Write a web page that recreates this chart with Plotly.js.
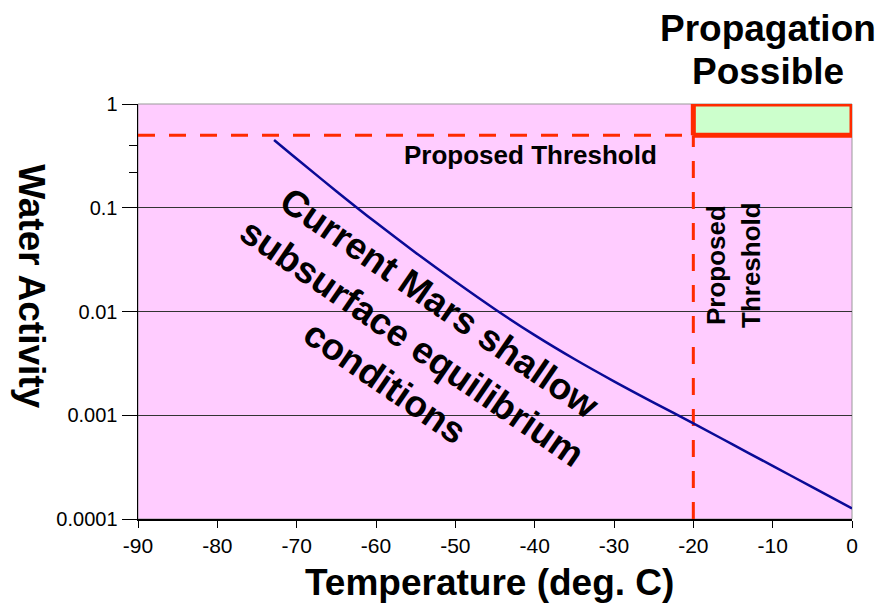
<!DOCTYPE html>
<html>
<head>
<meta charset="utf-8">
<script src="https://cdn.plot.ly/plotly-3.0.1.min.js"></script>
<style>html,body{margin:0;padding:0;background:#fff;}#chart{width:882px;height:604px;}</style>
</head>
<body>
<div id="chart"></div>
<script>
// Data
const temperature = [-72.85, -70, -65, -60, -55, -50, -45, -40, -35, -30, -25, -20, -15, -10, -5, 0];
const waterActivity = [0.450, 0.2965, 0.1445, 0.0719, 0.0369, 0.01945, 0.01052, 0.00592, 0.003483, 0.002123, 0.001324, 0.000836, 0.000521, 0.000325, 0.000203, 0.0001265];
const thresholdAw = 0.5;
const thresholdT = -20;
const xMin = -90, xMax = 0;
const yMin = 0.0001, yMax = 1;
const xTicks = [-90, -80, -70, -60, -50, -40, -30, -20, -10, 0];
const xTickText = ['-90', '-80', '-70', '-60', '-50', '-40', '-30', '-20', '-10', '0'];
const yTicks = [0.0001, 0.001, 0.01, 0.1, 1];
const yTickText = ['0.0001', '0.001', '0.01', '0.1', '1'];
const yMinorTicks = [0.4, 0.22];

const red = '#FF2A00';
const font = 'Liberation Sans, Arial, sans-serif';

const traces = [
  { // propagation possible box
    x: [thresholdT, xMax, xMax, thresholdT, thresholdT],
    y: [thresholdAw, thresholdAw, yMax, yMax, thresholdAw],
    mode: 'lines', fill: 'toself', fillcolor: '#CCFFCC',
    line: {color: red, width: 5}, hoverinfo: 'skip', showlegend: false
  },
  { // horizontal threshold
    x: [xMin, thresholdT], y: [thresholdAw, thresholdAw],
    mode: 'lines', line: {color: red, width: 3, dash: '17px,14px'}, showlegend: false
  },
  { // vertical threshold
    x: [thresholdT, thresholdT], y: [yMin, thresholdAw],
    mode: 'lines', line: {color: red, width: 3, dash: '17px,14px'}, showlegend: false
  },
  { // Mars curve
    x: temperature, y: waterActivity,
    mode: 'lines', line: {color: '#0A0A96', width: 2.5, shape: 'spline', smoothing: 1}, showlegend: false
  }
];

function note(x, y, text, size, angle) {
  return {xref: 'paper', yref: 'paper', x: x, y: y, text: text, textangle: angle || 0,
          xanchor: 'center', yanchor: 'middle', showarrow: false,
          font: {family: font, size: size, color: '#000'}};
}

const layout = {
  width: 882, height: 604,
  margin: {l: 138, r: 30, t: 104, b: 85},
  paper_bgcolor: '#FFFFFF',
  plot_bgcolor: '#FFCCFF',
  showlegend: false,
  font: {family: font, color: '#000', size: 18},
  xaxis: {
    range: [xMin, xMax], tickvals: xTicks, ticktext: xTickText, ticks: 'outside', ticklen: 7, tickcolor: '#000',
    showline: true, linecolor: '#000', linewidth: 1.5, showgrid: false, zeroline: false,
    tickfont: {family: font, size: 21, color: '#000'}
  },
  yaxis: {
    type: 'log', range: [Math.log10(yMin), Math.log10(yMax)],
    tickvals: yTicks, ticktext: yTickText, ticks: 'outside', ticklen: 15, tickcolor: '#000',
    showline: true, linecolor: '#000', linewidth: 1.5,
    showgrid: true, gridcolor: '#333', gridwidth: 1, zeroline: false,
    tickfont: {family: font, size: 20, color: '#000'},
    minor: {tickvals: yMinorTicks, ticks: 'outside', ticklen: 8, tickcolor: '#000', showgrid: false}
  },
  shapes: [
    {type: 'rect', xref: 'paper', yref: 'paper', x0: 0, x1: 1, y0: 0, y1: 1,
     line: {color: '#999', width: 1}, layer: 'below'}
  ],
  annotations: [
    note(0.882, 1.183, '<b>Propagation</b>', 37),
    note(0.882, 1.0795, '<b>Possible</b>', 37),
    note(0.5504, 0.877, '<b>Proposed Threshold</b>', 26),
    note(0.8095, 0.612, '<b>Proposed</b>', 26, -90),
    note(0.8585, 0.612, '<b>Threshold</b>', 26, -90),
    note(0.384, 0.4265, '<b>Current Mars shallow<br>subsurface equilibrium<br>conditions</b>', 37, 34.5),
    note(-0.1485, 0.561, '<b>Water Activity</b>', 37, 90),
    note(0.4923, -0.152, '<b>Temperature (deg. C)</b>', 37)
  ]
};

Plotly.newPlot('chart', traces, layout, {staticPlot: true, displayModeBar: false});
</script>
</body>
</html>
